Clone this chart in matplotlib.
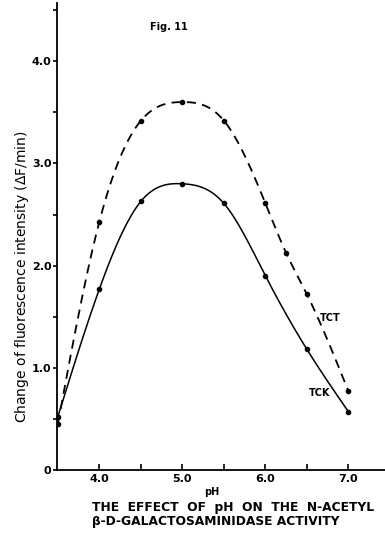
import numpy as np
import matplotlib
matplotlib.use("Agg")
import matplotlib.pyplot as plt
from matplotlib.ticker import MultipleLocator, FixedLocator

# Measured activity (change of fluorescence intensity, dF/min) vs pH
ph_tct = [3.5, 4.0, 4.5, 5.0, 5.5, 6.0, 6.25, 6.5, 7.0]
tct = [0.45, 2.43, 3.42, 3.60, 3.42, 2.61, 2.12, 1.72, 0.77]
ph_tck = [3.5, 4.0, 4.5, 5.0, 5.5, 6.0, 6.5, 7.0]
tck = [0.52, 1.77, 2.63, 2.80, 2.61, 1.90, 1.18, 0.57]

y_ticks = [0, 1, 2, 3, 4]
y_ticklabels = ["0", "1.0", "2.0", "3.0", "4.0"]
x_ticks = [4, 5, 6, 7]
x_ticklabels = ["4.0", "5.0", "6.0", "7.0"]


def smooth_curve(x, y, w=None, lam=1e-4, n=400):
    """Penalised (smoothing-spline style) curve through the measurements."""
    x = np.asarray(x, float)
    y = np.asarray(y, float)
    xs = np.linspace(x[0], x[-1], n)
    h = xs[1] - xs[0]
    B = np.zeros((len(x), n))
    for i, xi in enumerate(x):
        j = min(int((xi - xs[0]) / h), n - 2)
        t = (xi - xs[j]) / h
        B[i, j] += 1 - t
        B[i, j + 1] += t
    w = np.ones(len(x)) if w is None else np.asarray(w, float)
    D = np.diff(np.eye(n), 2, axis=0) / h ** 2
    A = B.T @ (w[:, None] * B) + lam * h * D.T @ D
    f = np.linalg.solve(A, B.T @ (w * y))
    return xs, f


fig = plt.figure(figsize=(3.85, 5.38), dpi=100)
ax = fig.add_axes([0.148, 0.1264, 0.852, 0.868])

xs, ys = smooth_curve(ph_tct, tct, w=[20, 3, 0.15, 2, 1, 1, 1, 1, 20])
ax.plot(xs, ys, color="black", lw=1.3, ls=(0, (5, 3.5)))
ax.plot(ph_tct, tct, "o", color="black", ms=3)

xs, ys = smooth_curve(ph_tck, tck, w=[20, 2, 1, 1, 1, 1, 1, 20])
ax.plot(xs, ys, color="black", lw=1.1)
ax.plot(ph_tck, tck, "o", color="black", ms=3)

ax.set_xlim(3.49, 7.44)
ax.set_ylim(0, 4.57)

for s in ("top", "right"):
    ax.spines[s].set_visible(False)
for s in ("left", "bottom"):
    ax.spines[s].set_linewidth(1.3)

ax.xaxis.set_major_locator(FixedLocator(x_ticks))
ax.set_xticklabels(x_ticklabels)
ax.xaxis.set_minor_locator(FixedLocator([4.5, 5.5, 6.5]))
ax.yaxis.set_major_locator(FixedLocator(y_ticks))
ax.set_yticklabels(y_ticklabels)
ax.yaxis.set_minor_locator(MultipleLocator(0.5))

ax.tick_params(axis="x", which="both", direction="in", length=4, width=1.2,
               labelsize=8, pad=3)
ax.tick_params(axis="y", which="both", direction="out", length=3, width=1.2,
               labelsize=8, pad=1)
for lab in ax.get_xticklabels() + ax.get_yticklabels():
    lab.set_fontweight("bold")

ax.set_ylabel("Change of fluorescence intensity ($\\Delta$F/min)",
              fontsize=10)
ax.yaxis.set_label_coords(-0.08, 0.415)

fig.text(0.39, 0.944, "Fig. 11", fontsize=7, fontweight="bold")
ax.text(6.65, 1.49, "TCT", fontsize=7, fontweight="bold", va="center")
ax.text(6.52, 0.75, "TCK", fontsize=7, fontweight="bold", va="center")

fig.text(0.551, 0.079, "pH", fontsize=7, fontweight="bold", ha="center")
fig.text(0.238, 0.05, "THE  EFFECT  OF  pH  ON  THE  N-ACETYL",
         fontsize=8.8, fontweight="bold", family="Liberation Sans Narrow")
fig.text(0.238, 0.024, "\u03b2-D-GALACTOSAMINIDASE ACTIVITY",
         fontsize=8.8, fontweight="bold", family="Liberation Sans Narrow")

fig.savefig("out.png", dpi=100)
